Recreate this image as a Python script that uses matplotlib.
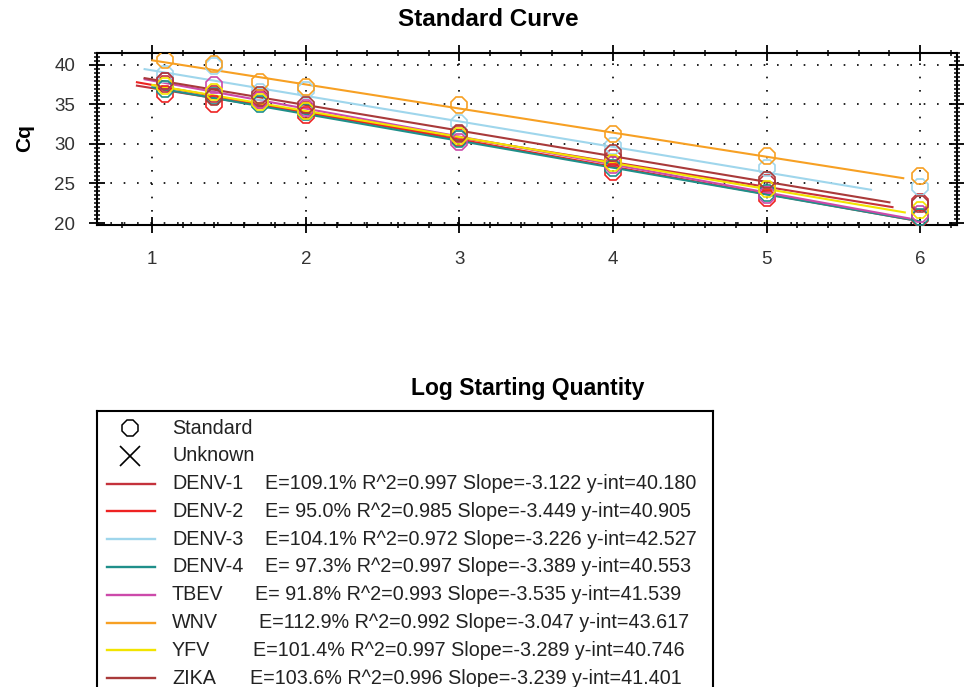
import matplotlib
matplotlib.use("Agg")
import matplotlib.pyplot as plt
from matplotlib.ticker import MultipleLocator

# ---------------- data ----------------
log_qty = [1.08, 1.40, 1.70, 2.00, 3.00, 4.00, 5.00, 6.00]
targets = ["DENV-1", "DENV-2", "DENV-3", "DENV-4", "TBEV", "WNV", "YFV", "ZIKA"]
efficiency = ["109.1", " 95.0", "104.1", " 97.3", " 91.8", "112.9", "101.4", "103.6"]
r_squared = ["0.997", "0.985", "0.972", "0.997", "0.993", "0.992", "0.997", "0.996"]
slopes = [-3.122, -3.449, -3.226, -3.389, -3.535, -3.047, -3.289, -3.239]
intercepts = [40.180, 40.905, 42.527, 40.553, 41.539, 43.617, 40.746, 41.401]
fit_x_start = [0.90, 0.90, 0.95, 1.00, 0.95, 1.00, 1.00, 0.95]
fit_x_end = [5.82, 5.93, 5.68, 6.00, 5.93, 5.89, 5.90, 5.80]
cq_denv1 = [37.6, 36.3, 35.8, 34.3, 31.2, 28.2, 25.0, 22.6]
cq_denv2 = [36.3, 35.0, 35.6, 33.7, 30.8, 26.4, 23.2, 20.6]
cq_denv3 = [38.9, 39.8, 36.6, 36.8, 32.7, 29.8, 27.0, 24.6]
cq_denv4 = [37.0, 36.0, 35.1, 34.0, 30.6, 27.0, 23.8, 20.8]
cq_tbev = [37.9, 37.4, 35.6, 34.6, 30.3, 27.4, 23.5, 21.2]
cq_wnv = [40.6, 40.1, 37.8, 37.2, 34.9, 31.3, 28.5, 26.0]
cq_yfv = [37.3, 36.6, 35.3, 34.2, 31.0, 27.6, 24.3, 21.7]
cq_zika = [38.0, 35.9, 36.2, 34.9, 31.4, 28.8, 25.4, 22.4]
cq_all = [cq_denv1, cq_denv2, cq_denv3, cq_denv4, cq_tbev, cq_wnv, cq_yfv, cq_zika]
colors = ["#c4323c", "#ee2222", "#9fd6ec", "#1f8f8a", "#cc4aaa", "#f7a023", "#f2e400", "#a93a3a"]
x_ticks = [1, 2, 3, 4, 5, 6]
y_ticks = [20, 25, 30, 35, 40]

plt.rcParams['font.family'] = ['Liberation Sans', 'DejaVu Sans']

W, H = 964, 687
fig = plt.figure(figsize=(W / 100, H / 100), dpi=100)
fig.patch.set_facecolor("white")

def fx(px):
    return px / W

def fy(py):
    return 1 - py / H

# ---------------- main plot ----------------
ax = fig.add_axes([fx(97), fy(225), (957 - 97) / W, (225 - 53) / H])
ax.set_xlim(0.64, 6.24)
ax.set_ylim(19.75, 41.5)

for i, name in enumerate(targets):
    x0, x1 = fit_x_start[i], fit_x_end[i]
    ax.plot([x0, x1], [intercepts[i] + slopes[i] * x0, intercepts[i] + slopes[i] * x1],
            color=colors[i], lw=1.5, zorder=3)
for i, name in enumerate(targets):
    ax.plot(log_qty, cq_all[i], linestyle="none", marker="8", markersize=12.5,
            markerfacecolor="none", markeredgecolor=colors[i], markeredgewidth=1.2, zorder=4)

ax.set_xticks(x_ticks)
ax.set_yticks(y_ticks)
ax.xaxis.set_minor_locator(MultipleLocator(0.2))
ax.yaxis.set_minor_locator(MultipleLocator(0.5))
ax.tick_params(which="major", direction="inout", length=11, width=1.3,
               top=True, right=True, labelsize=13.5, colors="black")
ax.tick_params(which="minor", direction="inout", length=5, width=1.1,
               top=True, right=True)
ax.tick_params(axis="x", which="major", pad=13)
ax.tick_params(axis="y", which="major", pad=10)
for t in ax.get_xticklabels() + ax.get_yticklabels():
    t.set_color("#333333")
ax.grid(True, which="major", linestyle=(0, (1, 7)), color="black", linewidth=1.2)
for s in ax.spines.values():
    s.set_linewidth(1.5)

fig.text(fx(488), fy(20), "Standard Curve", ha="center", va="center",
         fontsize=17.5, fontweight="bold", family=["Liberation Sans Narrow", "Liberation Sans"])
fig.text(fx(25), fy(138), "Cq", ha="center", va="center", rotation=90,
         fontsize=15, fontweight="bold")
fig.text(fx(528), fy(388), "Log Starting Quantity", ha="center", va="center",
         fontsize=16.5, fontweight="bold")

# ---------------- legend box ----------------
lax = fig.add_axes([fx(97), fy(730), (713 - 97) / W, (730 - 411) / H])
lax.set_xlim(0, 616)
lax.set_ylim(730 - 411, 0)
lax.set_xticks([])
lax.set_yticks([])
for s in lax.spines.values():
    s.set_linewidth(1.5)

row0, step = 17, 27.8
fs = 14.2
lax.plot([33], [row0], marker="8", markersize=12, markerfacecolor="none",
         markeredgecolor="black", markeredgewidth=1.1, linestyle="none")
lax.text(75, row0, "Standard", va="center", ha="left", fontsize=fs, color="#222222")
lax.plot([33], [row0 + step], marker="x", markersize=15, color="black",
         markeredgewidth=1.2, linestyle="none")
lax.text(75, row0 + step, "Unknown", va="center", ha="left", fontsize=fs, color="#222222")

stats_x = [168, 168, 168, 168, 158, 162, 156, 153]
for i, name in enumerate(targets):
    y = row0 + step * (i + 2)
    lax.plot([10, 58], [y, y], color=colors[i], lw=1.7)
    lax.text(75, y, name, va="center", ha="left", fontsize=fs, color="#222222")
    lax.text(stats_x[i], y,
             f"E={efficiency[i]}% R^2={r_squared[i]} Slope={slopes[i]:.3f} y-int={intercepts[i]:.3f}",
             va="center", ha="left", fontsize=fs, color="#222222")

fig.savefig("out.png", dpi=100)
